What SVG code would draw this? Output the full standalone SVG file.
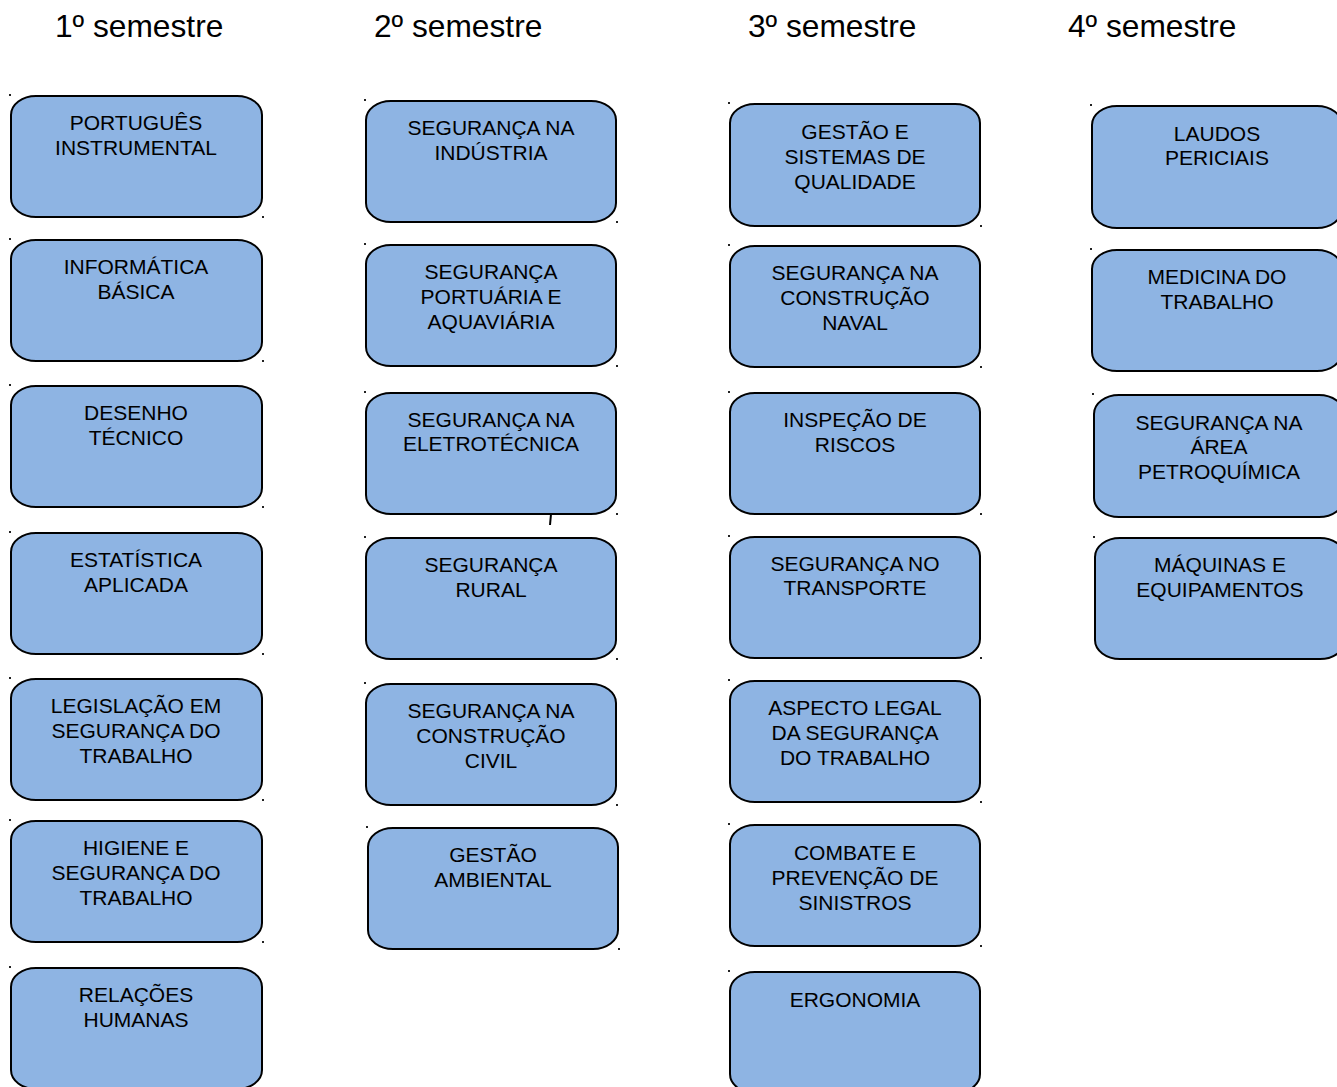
<svg xmlns="http://www.w3.org/2000/svg" width="1337" height="1087" viewBox="0 0 1337 1087">
<style>
.box{fill:#8EB4E3;stroke:#000;stroke-width:2}
.t{font-family:"Liberation Sans",Arial,sans-serif;font-size:21px;fill:#000;text-anchor:middle}
.h{font-family:"Liberation Sans",Arial,sans-serif;font-size:31.7px;fill:#000}
.dot{fill:#222}
</style>
<rect width="1337" height="1087" fill="#fff"/>
<g id="titles">
<text class="h" x="55" y="37">1º semestre</text>
<text class="h" x="374" y="37">2º semestre</text>
<text class="h" x="748" y="37">3º semestre</text>
<text class="h" x="1068" y="37">4º semestre</text>
</g>
<g id="connectors">
<path d="M551 514 L550 525" stroke="#000" stroke-width="2" fill="none"/>
</g>
<!-- column 1 -->
<g id="n1a"><rect class="box" x="11" y="96" width="251" height="121" rx="25" ry="19"/><rect class="dot" x="9" y="94" width="2" height="2"/><rect class="dot" x="262" y="216" width="2" height="2"/><text class="t" x="136" y="130">PORTUGUÊS</text><text class="t" x="136" y="155">INSTRUMENTAL</text></g>
<g id="n1b"><rect class="box" x="11" y="240" width="251" height="121" rx="25" ry="19"/><rect class="dot" x="9" y="238" width="2" height="2"/><rect class="dot" x="262" y="360" width="2" height="2"/><text class="t" x="136" y="274">INFORMÁTICA</text><text class="t" x="136" y="299">BÁSICA</text></g>
<g id="n1c"><rect class="box" x="11" y="386" width="251" height="121" rx="25" ry="19"/><rect class="dot" x="9" y="384" width="2" height="2"/><rect class="dot" x="262" y="506" width="2" height="2"/><text class="t" x="136" y="420">DESENHO</text><text class="t" x="136" y="445">TÉCNICO</text></g>
<g id="n1d"><rect class="box" x="11" y="533" width="251" height="121" rx="25" ry="19"/><rect class="dot" x="9" y="531" width="2" height="2"/><rect class="dot" x="262" y="653" width="2" height="2"/><text class="t" x="136" y="567">ESTATÍSTICA</text><text class="t" x="136" y="592">APLICADA</text></g>
<g id="n1e"><rect class="box" x="11" y="679" width="251" height="121" rx="25" ry="19"/><rect class="dot" x="9" y="677" width="2" height="2"/><rect class="dot" x="262" y="799" width="2" height="2"/><text class="t" x="136" y="713">LEGISLAÇÃO EM</text><text class="t" x="136" y="738">SEGURANÇA DO</text><text class="t" x="136" y="763">TRABALHO</text></g>
<g id="n1f"><rect class="box" x="11" y="821" width="251" height="121" rx="25" ry="19"/><rect class="dot" x="9" y="819" width="2" height="2"/><rect class="dot" x="262" y="941" width="2" height="2"/><text class="t" x="136" y="855">HIGIENE E</text><text class="t" x="136" y="880">SEGURANÇA DO</text><text class="t" x="136" y="905">TRABALHO</text></g>
<g id="n1g"><rect class="box" x="11" y="968" width="251" height="121" rx="25" ry="19"/><rect class="dot" x="9" y="966" width="2" height="2"/><text class="t" x="136" y="1002">RELAÇÕES</text><text class="t" x="136" y="1027">HUMANAS</text></g>
<!-- column 2 -->
<g id="n2a"><rect class="box" x="366" y="101" width="250" height="121" rx="25" ry="19"/><rect class="dot" x="364" y="99" width="2" height="2"/><rect class="dot" x="616" y="221" width="2" height="2"/><text class="t" x="491" y="135">SEGURANÇA NA</text><text class="t" x="491" y="160">INDÚSTRIA</text></g>
<g id="n2b"><rect class="box" x="366" y="245" width="250" height="121" rx="25" ry="19"/><rect class="dot" x="364" y="243" width="2" height="2"/><rect class="dot" x="616" y="365" width="2" height="2"/><text class="t" x="491" y="279">SEGURANÇA</text><text class="t" x="491" y="304">PORTUÁRIA E</text><text class="t" x="491" y="329">AQUAVIÁRIA</text></g>
<g id="n2c"><rect class="box" x="366" y="393" width="250" height="121" rx="25" ry="19"/><rect class="dot" x="364" y="391" width="2" height="2"/><rect class="dot" x="616" y="513" width="2" height="2"/><text class="t" x="491" y="427">SEGURANÇA NA</text><text class="t" x="491" y="451">ELETROTÉCNICA</text></g>
<g id="n2d"><rect class="box" x="366" y="538" width="250" height="121" rx="25" ry="19"/><rect class="dot" x="364" y="536" width="2" height="2"/><rect class="dot" x="616" y="658" width="2" height="2"/><text class="t" x="491" y="572">SEGURANÇA</text><text class="t" x="491" y="597">RURAL</text></g>
<g id="n2e"><rect class="box" x="366" y="684" width="250" height="121" rx="25" ry="19"/><rect class="dot" x="364" y="682" width="2" height="2"/><rect class="dot" x="616" y="804" width="2" height="2"/><text class="t" x="491" y="718">SEGURANÇA NA</text><text class="t" x="491" y="743">CONSTRUÇÃO</text><text class="t" x="491" y="768">CIVIL</text></g>
<g id="n2f"><rect class="box" x="368" y="828" width="250" height="121" rx="25" ry="19"/><rect class="dot" x="366" y="826" width="2" height="2"/><rect class="dot" x="618" y="948" width="2" height="2"/><text class="t" x="493" y="862">GESTÃO</text><text class="t" x="493" y="887">AMBIENTAL</text></g>
<!-- column 3 -->
<g id="n3a"><rect class="box" x="730" y="104" width="250" height="122" rx="25" ry="19"/><rect class="dot" x="728" y="102" width="2" height="2"/><rect class="dot" x="980" y="225" width="2" height="2"/><text class="t" x="855" y="139">GESTÃO E</text><text class="t" x="855" y="164">SISTEMAS DE</text><text class="t" x="855" y="189">QUALIDADE</text></g>
<g id="n3b"><rect class="box" x="730" y="246" width="250" height="121" rx="25" ry="19"/><rect class="dot" x="728" y="244" width="2" height="2"/><rect class="dot" x="980" y="366" width="2" height="2"/><text class="t" x="855" y="280">SEGURANÇA NA</text><text class="t" x="855" y="305">CONSTRUÇÃO</text><text class="t" x="855" y="330">NAVAL</text></g>
<g id="n3c"><rect class="box" x="730" y="393" width="250" height="121" rx="25" ry="19"/><rect class="dot" x="728" y="391" width="2" height="2"/><rect class="dot" x="980" y="513" width="2" height="2"/><text class="t" x="855" y="427">INSPEÇÃO DE</text><text class="t" x="855" y="452">RISCOS</text></g>
<g id="n3d"><rect class="box" x="730" y="537" width="250" height="121" rx="25" ry="19"/><rect class="dot" x="728" y="535" width="2" height="2"/><rect class="dot" x="980" y="657" width="2" height="2"/><text class="t" x="855" y="571">SEGURANÇA NO</text><text class="t" x="855" y="595">TRANSPORTE</text></g>
<g id="n3e"><rect class="box" x="730" y="681" width="250" height="121" rx="25" ry="19"/><rect class="dot" x="728" y="679" width="2" height="2"/><rect class="dot" x="980" y="801" width="2" height="2"/><text class="t" x="855" y="715">ASPECTO LEGAL</text><text class="t" x="855" y="740">DA SEGURANÇA</text><text class="t" x="855" y="765">DO TRABALHO</text></g>
<g id="n3f"><rect class="box" x="730" y="825" width="250" height="121" rx="25" ry="19"/><rect class="dot" x="728" y="823" width="2" height="2"/><rect class="dot" x="980" y="945" width="2" height="2"/><text class="t" x="855" y="860">COMBATE E</text><text class="t" x="855" y="885">PREVENÇÃO DE</text><text class="t" x="855" y="910">SINISTROS</text></g>
<g id="n3g"><rect class="box" x="730" y="972" width="250" height="121" rx="25" ry="19"/><rect class="dot" x="728" y="970" width="2" height="2"/><text class="t" x="855" y="1007">ERGONOMIA</text></g>
<!-- column 4 -->
<g id="n4a"><rect class="box" x="1092" y="106" width="250" height="122" rx="25" ry="19"/><rect class="dot" x="1090" y="104" width="2" height="2"/><text class="t" x="1217" y="141">LAUDOS</text><text class="t" x="1217" y="165">PERICIAIS</text></g>
<g id="n4b"><rect class="box" x="1092" y="250" width="250" height="121" rx="25" ry="19"/><rect class="dot" x="1090" y="248" width="2" height="2"/><text class="t" x="1217" y="284">MEDICINA DO</text><text class="t" x="1217" y="309">TRABALHO</text></g>
<g id="n4c"><rect class="box" x="1094" y="395" width="250" height="122" rx="25" ry="19"/><rect class="dot" x="1092" y="393" width="2" height="2"/><text class="t" x="1219" y="430">SEGURANÇA NA</text><text class="t" x="1219" y="454">ÁREA</text><text class="t" x="1219" y="479">PETROQUÍMICA</text></g>
<g id="n4d"><rect class="box" x="1095" y="538" width="250" height="121" rx="25" ry="19"/><rect class="dot" x="1093" y="536" width="2" height="2"/><text class="t" x="1220" y="572">MÁQUINAS E</text><text class="t" x="1220" y="597">EQUIPAMENTOS</text></g>
</svg>
